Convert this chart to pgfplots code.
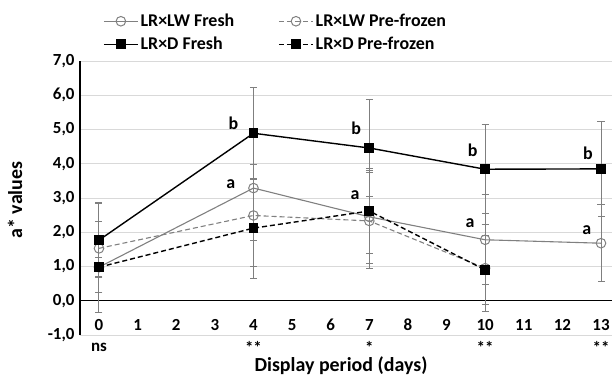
\documentclass[border=0pt]{standalone}
\usepackage{pgfplots}
\pgfplotsset{compat=1.18}
\usepackage{pgfplotstable}
\usepackage{fontspec}
\setmainfont{Carlito}
\definecolor{gline}{HTML}{808080}
\definecolor{ebar}{HTML}{7F7F7F}
\definecolor{gridc}{HTML}{D9D9D9}

\pgfplotstableread{
x y e
0 0.98 1.33
4 3.29 1.52
7 2.45 1.35
10 1.78 1.31
13 1.68 1.12
}\lwfresh
\pgfplotstableread{
x y e
0 1.53 1.30
4 2.49 1.48
7 2.33 1.40
10 0.95 1.27
}\lwfrozen
\pgfplotstableread{
x y e
0 1.77 1.10
4 4.89 1.34
7 4.46 1.41
10 3.84 1.30
13 3.85 1.39
}\dfresh
\pgfplotstableread{
x y e
0 0.98 0.27
4 2.12 1.46
7 2.62 1.25
10 0.90 1.00
}\dfrozen

\begin{document}
\begin{tikzpicture}
\clip (-80bp,-43bp) rectangle (532bp,335bp);
\begin{axis}[
  at={(0,0)}, anchor=south west,
  scale only axis, width=532bp, height=274bp,
  xmin=-0.492, xmax=13.285, ymin=-1, ymax=7,
  xtick={0,...,13}, ytick={-1,0,...,7},
  yticklabels={{-1,0},{0,0},{1,0},{2,0},{3,0},{4,0},{5,0},{6,0},{7,0}},
  major tick length=0,
  axis x line=bottom, axis y line=left,
  x axis line style={draw=none,-},
  y axis line style={black, line width=1.3bp,-},
  ymajorgrids, grid style={gridc, line width=0.9bp},
  extra y ticks={0}, extra y tick labels={},
  extra y tick style={grid=major, major grid style={black, line width=1.3bp}},
  tick label style={font=\fontsize{17}{19}\selectfont\bfseries},
  xticklabel style={yshift=19.5bp},
  yticklabel style={xshift=-2bp},
  /pgf/number format/assume math mode=true,
  xlabel={Display period (days)},
  ylabel={a* values},
  label style={font=\fontsize{20}{23}\selectfont\bfseries},
  xlabel style={at={(axis description cs:0.4906,-0.113)}, anchor=center},
  ylabel style={at={(axis description cs:-0.122,0.493)}, anchor=center},
  clip=false,
  legend columns=2,
  legend cell align=left,
  legend style={at={(axis description cs:0.0376,1.186)}, anchor=north west,
    draw=none, fill=none, font=\fontsize{18}{20}\selectfont\bfseries,
    /tikz/every even column/.append style={column sep=42bp},
    row sep=5bp},
  legend image code/.code={\draw[mark repeat=2,mark phase=2] plot coordinates {(0bp,0bp)(17bp,0bp)(34bp,0bp)};},
  error bars/y dir=both, error bars/y explicit,
  error bars/error bar style={ebar, line width=1bp, solid},
  error bars/error mark options={rotate=90, mark size=3.5bp, ebar, line width=1bp, solid},
]
\addplot[gline, line width=1.1bp, mark=o, mark size=4.8bp, mark options={solid, fill=none, gline, line width=1bp}]
  table[x=x, y=y, y error=e] {\lwfresh};
\addlegendentry{LR×LW Fresh}
\addplot[gline, line width=1.1bp, dash pattern=on 5bp off 3bp, mark=o, mark size=4.8bp, mark options={solid, fill=none, gline, line width=1bp}]
  table[x=x, y=y, y error=e] {\lwfrozen};
\addlegendentry{LR×LW Pre-frozen}
\addplot[black, line width=1.4bp, mark=square*, mark size=4.2bp, mark options={solid}]
  table[x=x, y=y, y error=e] {\dfresh};
\addlegendentry{LR×D Fresh}
\addplot[black, line width=1.4bp, dash pattern=on 5bp off 3bp, mark=square*, mark size=4.2bp, mark options={solid}]
  table[x=x, y=y, y error=e] {\dfrozen};
\addlegendentry{LR×D Pre-frozen}

\begin{scope}[font=\fontsize{18}{20}\selectfont\bfseries]
\node at (axis cs:3.48,5.19) {b};
\node at (axis cs:3.41,3.41) {a};
\node at (axis cs:6.66,5.04) {b};
\node at (axis cs:6.63,3.09) {a};
\node at (axis cs:9.68,4.39) {b};
\node at (axis cs:9.61,2.26) {a};
\node at (axis cs:12.66,4.31) {b};
\node at (axis cs:12.63,2.07) {a};
\end{scope}
\begin{scope}[font=\fontsize{17}{19}\selectfont\bfseries]
\node[yshift=-12bp] at (axis cs:0,-1) {ns};
\node[yshift=-12bp] at (axis cs:4,-1) {**};
\node[yshift=-12bp] at (axis cs:7,-1) {*};
\node[yshift=-12bp] at (axis cs:10,-1) {**};
\node[yshift=-12bp] at (axis cs:13,-1) {**};
\end{scope}
\end{axis}
\end{tikzpicture}
\end{document}
